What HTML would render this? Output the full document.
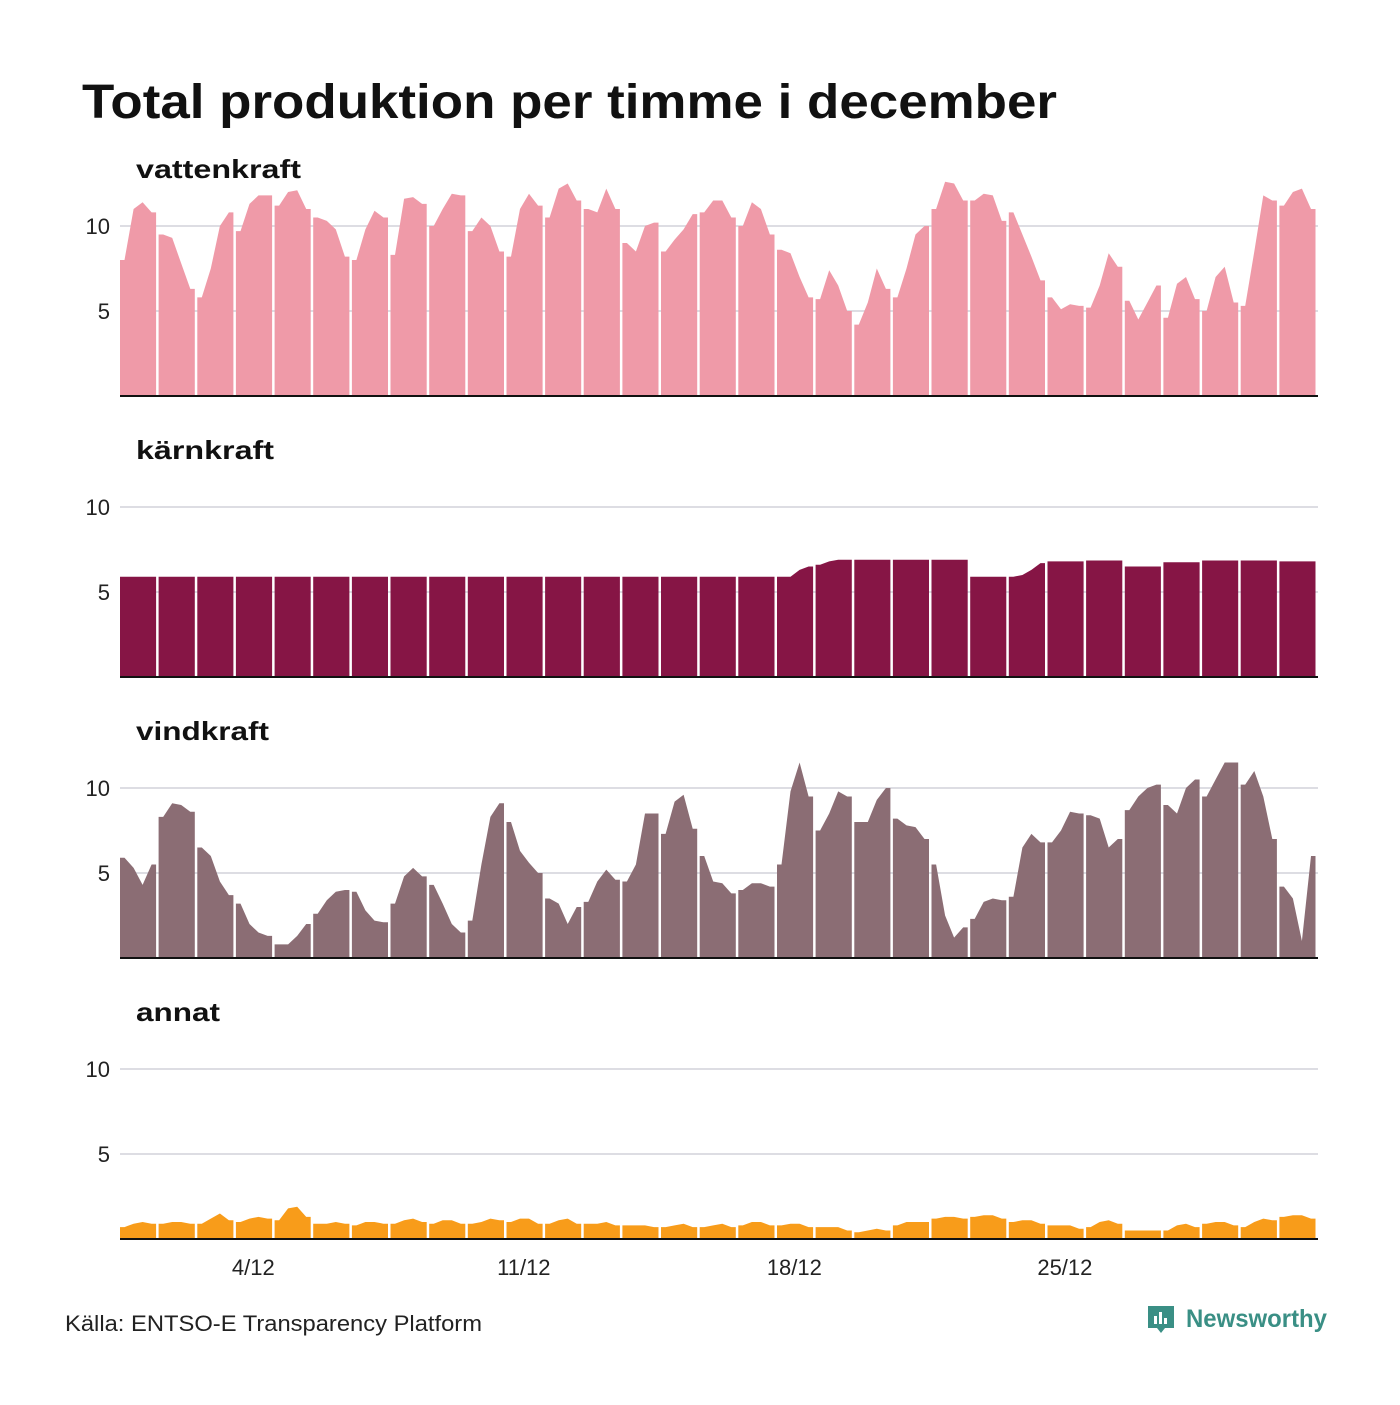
<!DOCTYPE html>
<html><head><meta charset="utf-8">
<style>
html,body{margin:0;padding:0;background:#fff;}
body{width:1400px;height:1400px;overflow:hidden;font-family:"Liberation Sans",sans-serif;}
</style></head>
<body>
<svg id="chart" width="1400" height="1400" xmlns="http://www.w3.org/2000/svg" font-family="Liberation Sans, sans-serif">
<text x="82" y="118" font-size="48" font-weight="bold" fill="#111" textLength="975" lengthAdjust="spacingAndGlyphs">Total produktion per timme i december</text>
<text x="65" y="1331" font-size="22" fill="#222" textLength="417" lengthAdjust="spacingAndGlyphs">Källa: ENTSO-E Transparency Platform</text>
<g>
<path d="M1148 1306 h26 v22 h-9 l-4 5 l-4 -5 h-9 z" fill="#3a8f85"/>
<rect x="1154" y="1316" width="3" height="8" fill="#fff"/><rect x="1159" y="1312" width="3" height="12" fill="#fff"/><rect x="1164" y="1318" width="3" height="6" fill="#fff"/>
<text x="1186" y="1327" font-size="25" font-weight="bold" fill="#3a8f85" textLength="141" lengthAdjust="spacingAndGlyphs">Newsworthy</text>
</g>
<g id="panels"></g>
</svg>
<script>
const days = Array.from({length:31},(_,i)=>i+1);
const xTickDays = [4,11,18,25];
const xTickLabels = ["4/12","11/12","18/12","25/12"];
const yTicks = [5,10];
const vattenkraft = [8,11,11.4,10.8, 9.5,9.3,7.8,6.3, 5.8,7.5,10,10.8, 9.7,11.3,11.8,11.8, 11.2,12,12.1,11, 10.5,10.3,9.8,8.2, 8,9.8,10.9,10.5, 8.3,11.6,11.7,11.3, 10,11,11.9,11.8, 9.7,10.5,10,8.5, 8.2,11,11.9,11.2, 10.5,12.2,12.5,11.5, 11,10.8,12.2,11, 9,8.5,10,10.2, 8.5,9.2,9.8,10.7, 10.8,11.5,11.5,10.5, 10,11.4,11,9.5, 8.6,8.4,7,5.8, 5.7,7.4,6.5,5, 4.2,5.5,7.5,6.3, 5.8,7.5,9.5,10, 11,12.6,12.5,11.5, 11.5,11.9,11.8,10.3, 10.8,9.5,8.2,6.8, 5.8,5.1,5.4,5.3, 5.2,6.5,8.4,7.6, 5.6,4.5,5.5,6.5, 4.6,6.6,7,5.7, 5,7,7.6,5.5, 5.3,8.5,11.8,11.5, 11.2,12,12.2,11];
const karnkraft = [].concat(...Array(17).fill([5.9,5.9,5.9,5.9]), [5.9,5.9,6.3,6.5], [6.6,6.8,6.9,6.9], [6.9,6.9,6.9,6.9],[6.9,6.9,6.9,6.9],[6.9,6.9,6.9,6.9],[5.9,5.9,5.9,5.9],[5.9,6.0,6.3,6.7],[6.8,6.8,6.8,6.8],[6.85,6.85,6.85,6.85],[6.5,6.5,6.5,6.5],[6.75,6.75,6.75,6.75],[6.85,6.85,6.85,6.85],[6.85,6.85,6.85,6.85],[6.8,6.8,6.8,6.8]);
const vindkraft = [5.9,5.3,4.3,5.5, 8.3,9.1,9,8.6, 6.5,6,4.5,3.7, 3.2,2,1.5,1.3, 0.8,0.8,1.3,2, 2.6,3.4,3.9,4, 3.9,2.8,2.2,2.1, 3.2,4.8,5.3,4.8, 4.3,3.2,2,1.5, 2.2,5.5,8.3,9.1, 8,6.3,5.6,5, 3.5,3.2,2,3, 3.3,4.5,5.2,4.6, 4.5,5.5,8.5,8.5, 7.3,9.2,9.6,7.6, 6,4.5,4.4,3.8, 4,4.4,4.4,4.2, 5.5,9.8,11.5,9.5, 7.5,8.5,9.8,9.5, 8,8,9.3,10, 8.2,7.8,7.7,7, 5.5,2.5,1.2,1.8, 2.3,3.3,3.5,3.4, 3.6,6.5,7.3,6.8, 6.8,7.5,8.6,8.5, 8.4,8.2,6.5,7, 8.7,9.5,10,10.2, 9,8.5,10,10.5, 9.5,10.5,11.5,11.5, 10.2,11,9.5,7, 4.2,3.5,1,6];
const annat = [0.7,0.9,1.0,0.9, 0.9,1.0,1.0,0.9, 0.9,1.2,1.5,1.1, 1.0,1.2,1.3,1.2, 1.1,1.8,1.9,1.3, 0.9,0.9,1.0,0.9, 0.8,1.0,1.0,0.9, 0.9,1.1,1.2,1.0, 0.9,1.1,1.1,0.9, 0.9,1.0,1.2,1.1, 1.0,1.2,1.2,0.9, 0.9,1.1,1.2,0.9, 0.9,0.9,1.0,0.8, 0.8,0.8,0.8,0.7, 0.7,0.8,0.9,0.7, 0.7,0.8,0.9,0.7, 0.8,1.0,1.0,0.8, 0.8,0.9,0.9,0.7, 0.7,0.7,0.7,0.5, 0.4,0.5,0.6,0.5, 0.8,1.0,1.0,1.0, 1.2,1.3,1.3,1.2, 1.3,1.4,1.4,1.2, 1.0,1.1,1.1,0.9, 0.8,0.8,0.8,0.6, 0.7,1.0,1.1,0.9, 0.5,0.5,0.5,0.5, 0.5,0.8,0.9,0.7, 0.9,1.0,1.0,0.8, 0.7,1.0,1.2,1.1, 1.3,1.4,1.4,1.2];
const seriesNames = ["vattenkraft","kärnkraft","vindkraft","annat"];
const seriesData = [vattenkraft,karnkraft,vindkraft,annat];
const seriesColors = ["#ef9aa8","#861545","#8b6d74","#f89c1a"];
const seriesKeys = ["vattenkraft","karnkraft","vindkraft","annat"];
const titleLens = [165,138,133,84];

const NS="http://www.w3.org/2000/svg";
const X0=120, X1=1318, PER=4;
const dayW=(X1-X0)/31;
function xScale(dayFrac){return X0+(dayFrac-1)*dayW;}
const baselines=[396,677,958,1239];
function yScale(p,v){return baselines[p]-v*17;}
const g=document.getElementById('panels');
function mk(tag,attrs){const e=document.createElementNS(NS,tag);for(const k in attrs)e.setAttribute(k,attrs[k]);return e;}

seriesData.forEach((data,p)=>{
  const pg=mk('g',{});
  
  
  g.appendChild(pg);
  const t=mk('text',{x:136,y:baselines[p]-218,'font-size':26,'font-weight':'bold',fill:'#111',textLength:titleLens[p],lengthAdjust:'spacingAndGlyphs'});
  t.textContent=seriesNames[p];
  
  
  pg.appendChild(t);
  yTicks.forEach(v=>{
    const y=yScale(p,v);
    const l=mk('line',{x1:X0,x2:X1,y1:y,y2:y,stroke:'#dddde3','stroke-width':2});
    
    
    pg.appendChild(l);
    const tl=mk('text',{x:110,y:y+8,'font-size':22,'text-anchor':'end',fill:'#222'});
    tl.textContent=v;
    
    
    pg.appendChild(tl);
  });
  days.forEach((d,di)=>{
    const xs=xScale(d), xe=xScale(d+1)-2.5;
    const vals=data.slice(di*PER,di*PER+PER);
    let pts=[[xs,yScale(p,0)],[xs,yScale(p,vals[0])]];
    vals.forEach((v,i)=>pts.push([xs+(i+0.5)*(xe-xs)/PER,yScale(p,v)]));
    pts.push([xe,yScale(p,vals[PER-1])],[xe,yScale(p,0)]);
    const poly=mk('polygon',{points:pts.map(q=>q[0].toFixed(1)+','+q[1].toFixed(1)).join(' '),fill:seriesColors[p]});
    
    
    pg.appendChild(poly);
  });
  const base=mk('line',{x1:X0,x2:X1,y1:baselines[p],y2:baselines[p],stroke:'#111','stroke-width':2});
  
  
  pg.appendChild(base);
});
xTickDays.forEach((d,i)=>{
  const t=mk('text',{x:xScale(d+0.45),y:1275,'font-size':22,'text-anchor':'middle',fill:'#222'});
  t.textContent=xTickLabels[i];
  
  
  g.appendChild(t);
});
</script>
</body></html>
